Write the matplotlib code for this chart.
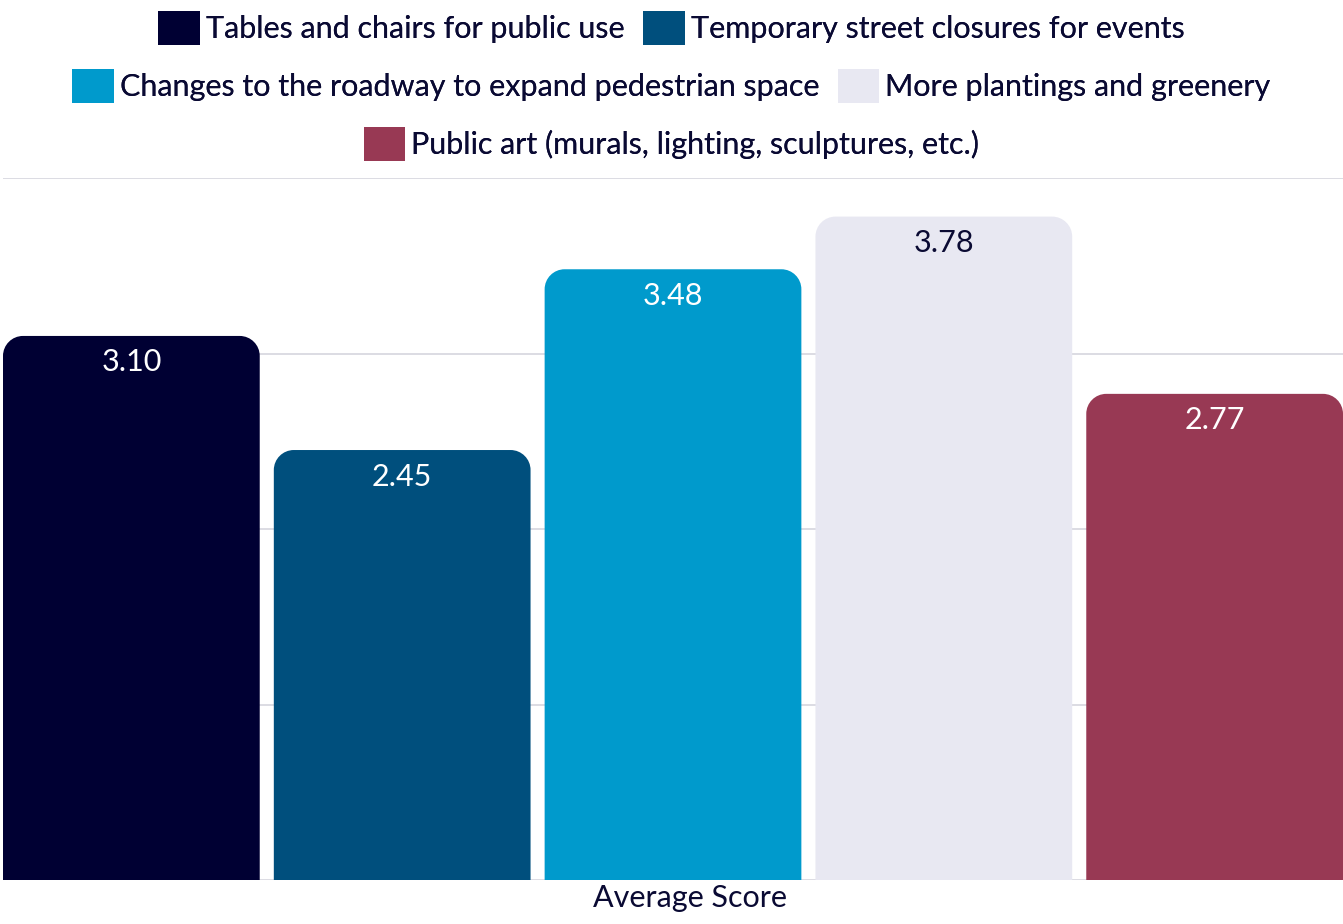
import matplotlib
matplotlib.use("Agg")
import matplotlib.pyplot as plt
from matplotlib.path import Path
from matplotlib.patches import PathPatch, Patch

plt.rcParams['font.family'] = ['Lato', 'DejaVu Sans']

categories = ["Tables and chairs for public use",
              "Temporary street closures for events",
              "Changes to the roadway to expand pedestrian space",
              "More plantings and greenery",
              "Public art (murals, lighting, sculptures, etc.)"]
values = [3.10, 2.45, 3.48, 3.78, 2.77]
colors = ["#000033", "#004f7d", "#009acc", "#e8e8f2", "#983954"]
label_colors = ["white", "white", "white", "#0a0a33", "white"]
xlabel = "Average Score"

W, H = 1343, 924
fig = plt.figure(figsize=(W / 100, H / 100), dpi=100)
ax_left, ax_right, ax_top, ax_bottom = 3, 1343, 178, 880
ax = fig.add_axes([ax_left / W, (H - ax_bottom) / H, (ax_right - ax_left) / W, (ax_bottom - ax_top) / H])

width = 0.948
xs = list(range(len(values)))
ax.set_xlim(-width / 2, len(values) - 1 + width / 2)
ax.set_ylim(0, 4)
ax.set_yticks([0, 1, 2, 3, 4])
ax.grid(axis='y', color='#d6d6de', linewidth=1.2, zorder=0)
ax.set_axisbelow(True)
for s in ax.spines.values():
    s.set_visible(False)
ax.tick_params(left=False, bottom=False, labelleft=False, labelbottom=False)

bars = ax.bar(xs, values, width=width, color=colors, zorder=2)

# convert a 20px radius into data units
px_x = (ax.get_xlim()[1] - ax.get_xlim()[0]) / (ax_right - ax_left)
px_y = (ax.get_ylim()[1] - ax.get_ylim()[0]) / (ax_bottom - ax_top)
r = 20
rx, ry = r * px_x, r * px_y
k = 0.5523
for b in bars:
    x0, y0 = b.get_x(), b.get_y()
    x1, y1 = x0 + b.get_width(), y0 + b.get_height()
    verts = [(x0, y0), (x0, y1 - ry),
             (x0, y1 - ry + k * ry), (x0 + rx - k * rx, y1), (x0 + rx, y1),
             (x1 - rx, y1),
             (x1 - rx + k * rx, y1), (x1, y1 - ry + k * ry), (x1, y1 - ry),
             (x1, y0), (x0, y0)]
    codes = [Path.MOVETO, Path.LINETO,
             Path.CURVE4, Path.CURVE4, Path.CURVE4,
             Path.LINETO,
             Path.CURVE4, Path.CURVE4, Path.CURVE4,
             Path.LINETO, Path.CLOSEPOLY]
    patch = PathPatch(Path(verts, codes), facecolor=b.get_facecolor(), edgecolor='none', zorder=2)
    ax.add_patch(patch)
    b.set_visible(False)

for x, v, lc in zip(xs, values, label_colors):
    ax.annotate(f"{v:.2f}", xy=(x, v), xytext=(0, -9), textcoords='offset points',
                ha='center', va='top', fontsize=22, color=lc, zorder=3)

ax.set_xlabel(xlabel, fontsize=22, color='#0a0a33', labelpad=0)
ax.xaxis.set_label_coords((690 - ax_left) / (ax_right - ax_left), -0.006, transform=ax.transAxes)
ax.xaxis.label.set_va('top')

handles = [Patch(facecolor=c, edgecolor='none') for c in colors]
rows = [[0, 1], [2, 3], [4]]
row_y = [28, 86, 144]
for idx, yc in zip(rows, row_y):
    leg = fig.legend([handles[i] for i in idx], [categories[i] for i in idx],
                     loc='center', bbox_to_anchor=(0.5, 1 - yc / H), ncol=len(idx),
                     frameon=False, fontsize=22, handlelength=1.36, handleheight=1.36,
                     handletextpad=0.2, columnspacing=0.6, borderpad=0, borderaxespad=0)
    for t in leg.get_texts():
        t.set_color('#0a0a33')
    fig.add_artist(leg)

fig.savefig("out.png", dpi=100)
